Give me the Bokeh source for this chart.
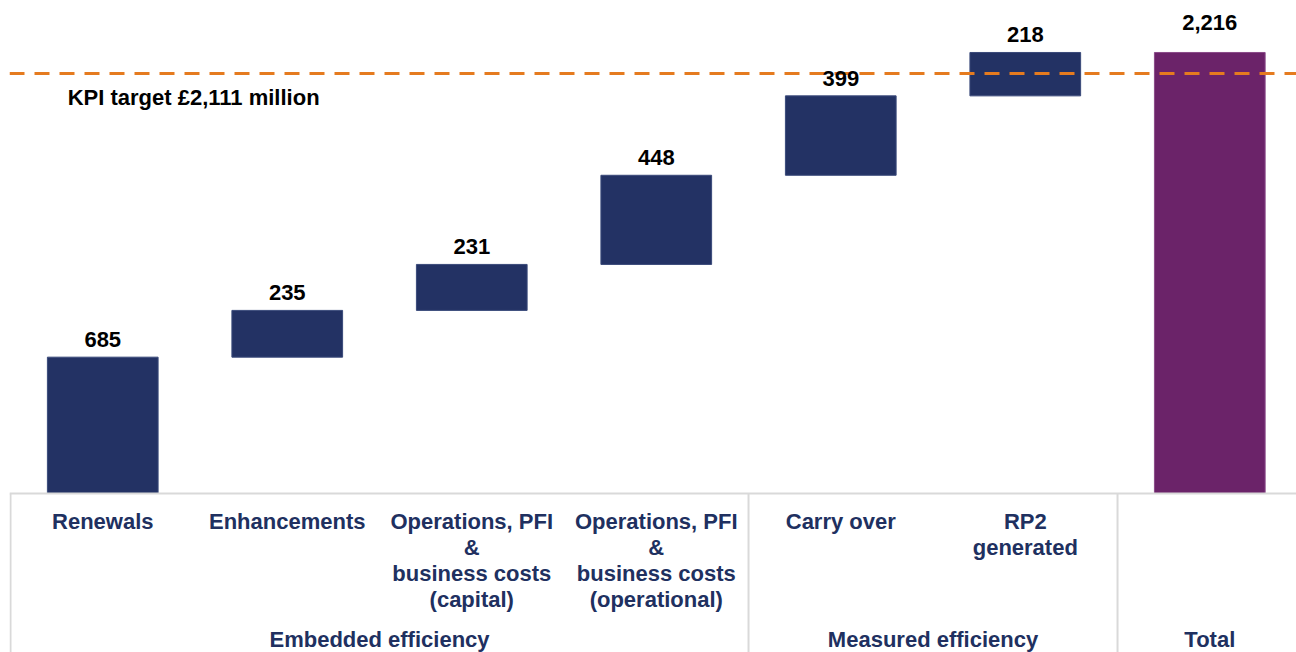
from bokeh.plotting import figure
from bokeh.models import Range1d, ColumnDataSource, Span, Label, LabelSet
from bokeh.core.properties import value
from bokeh.embed import file_html
from bokeh.resources import INLINE

# ---- data ----
categories = [
    "Renewals",
    "Enhancements",
    "Operations, PFI\n&\nbusiness costs\n(capital)",
    "Operations, PFI\n&\nbusiness costs\n(operational)",
    "Carry over",
    "RP2\ngenerated",
    "",
]
step_values = [685, 235, 231, 448, 399, 218]
total_value = 2216
groups = ["Embedded efficiency", "Measured efficiency", "Total"]
group_sizes = [4, 2, 1]
kpi_target = 2111
kpi_label = "KPI target £2,111 million"

FONT = "Liberation Sans"
NAVY = "#233264"
PURPLE = "#6b2369"
TEXT_NAVY = "#203060"
ORANGE = "#e57b1f"
GRID_GREY = "#d9d9d9"

# ---- derived waterfall geometry ----
xs = list(range(len(step_values)))
bottoms, tops = [], []
run = 0
for v in step_values:
    bottoms.append(run)
    run += v
    tops.append(run)

p = figure(
    width=1296, height=652,
    x_range=Range1d(-0.5054, 6.470),
    y_range=Range1d(-799, 2437),
    x_axis_type=None, y_axis_type=None,
    toolbar_location=None, output_backend="svg",
    min_border_left=9, min_border_right=0, min_border_top=8, min_border_bottom=0,
)
p.outline_line_color = None
p.grid.visible = False

# step bars
src = ColumnDataSource(dict(x=xs, bottom=bottoms, top=tops,
                            lab=[f"{v:,}" for v in step_values]))
p.vbar(x="x", bottom="bottom", top="top", width=0.6, source=src,
       fill_color=NAVY, line_color="#3a4a7a", line_width=1)

# total bar
tsrc = ColumnDataSource(dict(x=[len(step_values)], bottom=[0], top=[total_value],
                             lab=[f"{total_value:,}"]))
p.vbar(x="x", bottom="bottom", top="top", width=0.6, source=tsrc,
       fill_color=PURPLE, line_color="#8a4a88", line_width=1)

# KPI target line and label
p.add_layout(Span(location=kpi_target, dimension="width", line_color=ORANGE,
                  line_width=3, line_dash="15 10"))
p.add_layout(Label(x=-0.19, y=kpi_target, text=kpi_label, y_offset=-24,
                   text_baseline="alphabetic", text_align="left",
                   text_font=FONT, text_font_style="bold", text_font_size="22px",
                   text_color="#000000"))

# value labels (drawn above the target line)
p.add_layout(LabelSet(x="x", y="top", text="lab", source=src, y_offset=10,
                      text_align="center", text_baseline="alphabetic",
                      text_font=value(FONT), text_font_style="bold",
                      text_font_size="22px", text_color="#000000"))
p.add_layout(LabelSet(x="x", y="top", text="lab", source=tsrc, y_offset=22,
                      text_align="center", text_baseline="alphabetic",
                      text_font=value(FONT), text_font_style="bold",
                      text_font_size="22px", text_color="#000000"))

# category axis box
y_low = p.y_range.start
p.segment(x0=[p.x_range.start], x1=[p.x_range.end], y0=[0], y1=[0],
          line_color=GRID_GREY, line_width=2)
bounds = [-0.5]
acc = -0.5
for g in group_sizes:
    acc += g
    bounds.append(acc)
p.segment(x0=bounds, x1=bounds, y0=[0] * len(bounds), y1=[y_low] * len(bounds),
          line_color=GRID_GREY, line_width=2)

# category labels
all_x = list(range(len(categories)))
csrc = ColumnDataSource(dict(x=all_x, y=[0] * len(categories), t=categories))
p.text(x="x", y="y", text="t", source=csrc, y_offset=16,
       text_align="center", text_baseline="top", text_line_height=1.03,
       text_font=value(FONT), text_font_style="bold", text_font_size="22px",
       text_color=TEXT_NAVY)

# group labels
gx = []
start = 0
for g in group_sizes:
    gx.append(start + (g - 1) / 2)
    start += g
gsrc = ColumnDataSource(dict(x=gx, y=[0] * len(groups), t=groups))
p.text(x="x", y="y", text="t", source=gsrc, y_offset=146,
       text_align="center", text_baseline="alphabetic",
       text_font=value(FONT), text_font_style="bold", text_font_size="22px",
       text_color=TEXT_NAVY)

open("out.html", "w").write(file_html(p, INLINE))
